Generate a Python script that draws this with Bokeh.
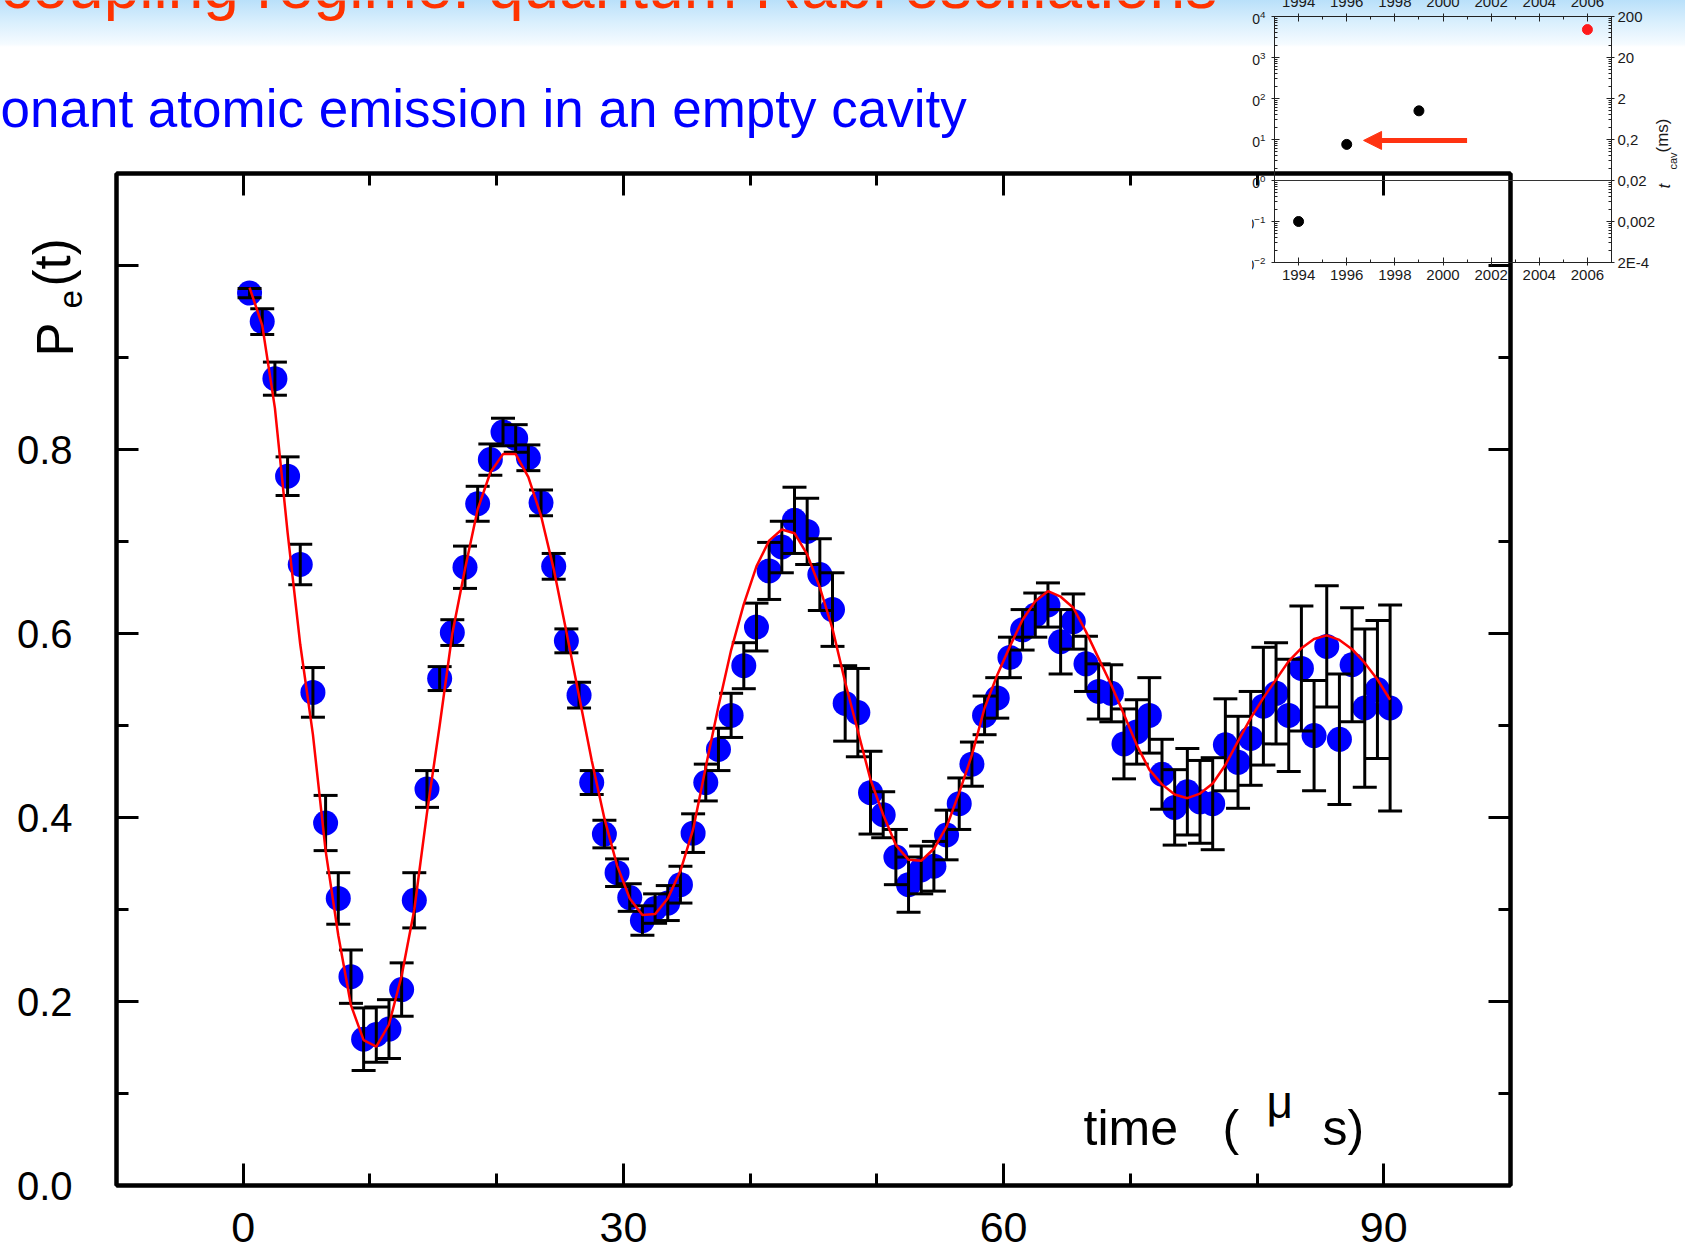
from bokeh.plotting import figure
from bokeh.models import (Range1d, LinearAxis, LogAxis, FixedTicker, CustomJSTickFormatter,
                          LogTickFormatter, ColumnDataSource, Whisker, TeeHead, Label, Span,
                          Arrow, NormalHead)
from bokeh.embed import file_html
from bokeh.resources import INLINE
import math

# ---------------- data: main plot ----------------
t_us = [0.5, 1.5, 2.5, 3.5, 4.5, 5.5, 6.5, 7.5, 8.5, 9.5,
        10.5, 11.5, 12.5, 13.5, 14.5, 15.5, 16.5, 17.5, 18.5, 19.5,
        20.5, 21.5, 22.5, 23.5, 24.5, 25.5, 26.5, 27.5, 28.5, 29.5,
        30.5, 31.5, 32.5, 33.5, 34.5, 35.5, 36.5, 37.5, 38.5, 39.5,
        40.5, 41.5, 42.5, 43.5, 44.5, 45.5, 46.5, 47.5, 48.5, 49.5,
        50.5, 51.5, 52.5, 53.5, 54.5, 55.5, 56.5, 57.5, 58.5, 59.5,
        60.5, 61.5, 62.5, 63.5, 64.5, 65.5, 66.5, 67.5, 68.5, 69.5,
        70.5, 71.5, 72.5, 73.5, 74.5, 75.5, 76.5, 77.5, 78.5, 79.5,
        80.5, 81.5, 82.5, 83.5, 84.5, 85.5, 86.5, 87.5, 88.5, 89.5,
        90.5]

pe = [0.970, 0.939, 0.877, 0.771, 0.675, 0.536, 0.394, 0.312, 0.227, 0.159,
      0.164, 0.170, 0.213, 0.310, 0.431, 0.551, 0.601, 0.672, 0.741, 0.789,
      0.819, 0.812, 0.791, 0.742, 0.673, 0.592, 0.533, 0.438, 0.382, 0.340,
      0.313, 0.288, 0.301, 0.307, 0.327, 0.383, 0.438, 0.474, 0.511, 0.565,
      0.607, 0.668, 0.694, 0.723, 0.711, 0.664, 0.626, 0.524, 0.514, 0.427,
      0.403, 0.357, 0.327, 0.343, 0.347, 0.381, 0.415, 0.458, 0.511, 0.530,
      0.574, 0.604, 0.620, 0.631, 0.591, 0.613, 0.567, 0.537, 0.535, 0.480,
      0.493, 0.511, 0.447, 0.411, 0.428, 0.417, 0.415, 0.479, 0.460, 0.486,
      0.521, 0.535, 0.511, 0.562, 0.489, 0.586, 0.485, 0.566, 0.519, 0.539,
      0.519]

pe_err = [0.005, 0.014, 0.018, 0.021, 0.022, 0.027, 0.030, 0.028, 0.029, 0.034,
          0.030, 0.032, 0.029, 0.030, 0.020, 0.013, 0.014, 0.023, 0.019, 0.017,
          0.015, 0.015, 0.014, 0.014, 0.014, 0.013, 0.014, 0.013, 0.015, 0.015,
          0.015, 0.016, 0.016, 0.019, 0.020, 0.021, 0.020, 0.023, 0.024, 0.025,
          0.026, 0.031, 0.028, 0.036, 0.036, 0.039, 0.040, 0.041, 0.048, 0.045,
          0.025, 0.030, 0.030, 0.026, 0.027, 0.027, 0.028, 0.024, 0.021, 0.022,
          0.022, 0.022, 0.024, 0.024, 0.035, 0.030, 0.030, 0.030, 0.031, 0.038,
          0.035, 0.041, 0.038, 0.041, 0.047, 0.045, 0.050, 0.050, 0.050, 0.051,
          0.064, 0.055, 0.061, 0.068, 0.060, 0.066, 0.071, 0.062, 0.086, 0.075,
          0.112]

fit = [0.976, 0.935, 0.845, 0.710, 0.588, 0.490, 0.364, 0.272, 0.196, 0.158,
       0.151, 0.175, 0.228, 0.300, 0.405, 0.500, 0.600, 0.670, 0.735, 0.775,
       0.795, 0.795, 0.770, 0.728, 0.670, 0.602, 0.532, 0.462, 0.399, 0.348,
       0.312, 0.294, 0.295, 0.312, 0.342, 0.387, 0.455, 0.521, 0.582, 0.632,
       0.673, 0.701, 0.713, 0.709, 0.686, 0.650, 0.605, 0.547, 0.494, 0.441,
       0.403, 0.370, 0.354, 0.353, 0.366, 0.390, 0.427, 0.468, 0.519, 0.555,
       0.586, 0.615, 0.635, 0.646, 0.640, 0.628, 0.602, 0.573, 0.544, 0.512,
       0.479, 0.452, 0.436, 0.425, 0.421, 0.426, 0.437, 0.457, 0.483, 0.508,
       0.530, 0.550, 0.570, 0.584, 0.594, 0.598, 0.593, 0.583, 0.568, 0.550,
       0.528]

x_major = [0, 30, 60, 90]
x_minor = [10, 20, 40, 50, 70, 80]
y_major = [0.0, 0.2, 0.4, 0.6, 0.8, 1.0]
y_minor = [0.1, 0.3, 0.5, 0.7, 0.9]

# ---------------- data: inset ----------------
years = [1994, 1996, 1999, 2006]
q_vals = [0.1, 7.6, 50.0, 4800.0]
q_colors = ["black", "black", "black", "#ff1a1a"]
year_major = [1994, 1996, 1998, 2000, 2002, 2004, 2006]
year_minor = [1993, 1995, 1997, 1999, 2001, 2003, 2005, 2007]
q_major = [1e-2, 1e-1, 1e0, 1e1, 1e2, 1e3, 1e4]
arrow_from = (2001.0, 9.5)
arrow_to = (1996.7, 9.5)

FONT = "Liberation Sans"
W, H = 1685, 1249

# ================= main figure =================
p = figure(width=W, height=H, x_range=Range1d(-10, 100), y_range=Range1d(0, 1.1),
           output_backend="svg", toolbar_location=None,
           min_border_left=116, min_border_right=175, min_border_top=173, min_border_bottom=64,
           border_fill_color=None, background_fill_color="white",
           outline_line_color="black", outline_line_width=4,
           styles={"position": "absolute", "left": "0px", "top": "0px", "z-index": "0",
                   "background-image": "linear-gradient(to bottom, #b9e0fa 0px, #d9effd 22px, #f5fbff 44px, #ffffff 47px)"})
p.grid.visible = False


def style_axis(ax, major, minor, show_labels, fs, standoff):
    ax.ticker = FixedTicker(ticks=major, minor_ticks=minor)
    ax.axis_line_width = 4
    ax.axis_line_color = "black"
    ax.major_tick_in = 22
    ax.major_tick_out = 0
    ax.minor_tick_in = 12
    ax.minor_tick_out = 0
    ax.major_tick_line_width = 3
    ax.minor_tick_line_width = 3
    ax.major_label_text_font = FONT
    ax.major_label_text_font_size = fs
    ax.major_label_text_color = "black"
    ax.major_label_standoff = standoff
    if not show_labels:
        ax.formatter = CustomJSTickFormatter(code="return '';")


style_axis(p.xaxis[0], x_major, x_minor, True, "43px", 27)
style_axis(p.yaxis[0], y_major, y_minor, True, "40px", 44)
p.yaxis[0].formatter = CustomJSTickFormatter(code="return tick > 0.95 ? '' : tick.toFixed(1);")

top_ax = LinearAxis()
style_axis(top_ax, x_major, x_minor, False, "10px", 5)
p.add_layout(top_ax, "above")
right_ax = LinearAxis()
style_axis(right_ax, y_major, y_minor, False, "10px", 5)
p.add_layout(right_ax, "right")

src = ColumnDataSource(dict(
    t=t_us, pe=pe, fit=fit,
    upper=[v + e for v, e in zip(pe, pe_err)],
    lower=[v - e for v, e in zip(pe, pe_err)],
))

p.scatter("t", "pe", source=src, size=25, fill_color="#0000ff", line_color=None)
whisk = Whisker(base="t", upper="upper", lower="lower", source=src, dimension="height",
                line_color="black", line_width=3, level="annotation",
                upper_head=TeeHead(size=24, line_width=3, line_color="black"),
                lower_head=TeeHead(size=24, line_width=3, line_color="black"))
p.add_layout(whisk)
p.line("t", "fit", source=src, line_color="#ff0000", line_width=2.5, level="overlay")

# ================= page overlay for free texts (page pixels, y downward) =================
page = figure(width=W, height=H, x_range=Range1d(0, W), y_range=Range1d(H, 0),
              output_backend="svg", toolbar_location=None, title=None,
              x_axis_type=None, y_axis_type=None,
              min_border_left=0, min_border_right=0, min_border_top=0, min_border_bottom=0,
              border_fill_color=None, background_fill_color=None, outline_line_color=None,
              styles={"position": "absolute", "left": "0px", "top": "0px", "z-index": "1",
                      "pointer-events": "none"})
page.grid.visible = False

MID = 0.35  # distance from alphabetic baseline to the text middle, in em


def txt(x, y_base, text, size, color="black", rotated=False, style="normal"):
    """x: start of text; y_base: baseline position (for rotated text: x is baseline, y is start)."""
    if rotated:
        ax_, ay_ = x - MID * size, y_base
        ang = math.pi / 2
    else:
        ax_, ay_ = x, y_base - MID * size
        ang = 0.0
    page.add_layout(Label(x=ax_, y=ay_, text=text, text_font=FONT,
                          text_font_size=f"{size}px", text_color=color,
                          text_font_style=style, angle=ang,
                          text_align="left", text_baseline="middle"))


txt(0, 8, "coupling regime: quantum Rabi oscillations", 64, "#ff3300")
txt(0, 127, "onant atomic emission in an empty cavity", 53, "#0000ff")
# y-axis title P_e(t), read bottom-to-top
txt(73, 356, "P", 51, rotated=True)
txt(82, 308, "e", 33, rotated=True)
txt(70, 286, "(t)", 51, rotated=True)
# x-axis title inside the frame
txt(1083, 1145, "time", 50)
txt(1222, 1145, "(", 50)
txt(1266, 1118, "\u03bc", 46)
txt(1322, 1145, "s)", 50)
# inset right-axis title t_cav (ms)
txt(1670, 188, "t", 17, "#1a1a1a", rotated=True, style="italic")
txt(1676, 169, "cav", 11, "#1a1a1a", rotated=True)
txt(1668, 152, "(ms)", 17, "#1a1a1a", rotated=True)

# ================= inset figure =================
ins = figure(width=471, height=316, x_range=Range1d(1993, 2007), y_range=Range1d(1e-2, 1e4),
             y_axis_type="log", output_backend="svg", toolbar_location=None,
             min_border_left=60, min_border_right=74, min_border_top=40, min_border_bottom=30,
             border_fill_color=None, background_fill_color=None,
             outline_line_color="#222222", outline_line_width=1,
             styles={"position": "absolute", "left": "1214px", "top": "-24px", "z-index": "2",
                     "clip-path": "inset(0px 0px 0px 38px)", "pointer-events": "none"})
ins.grid.visible = False

q_minor = [m * 10.0 ** k for k in range(-2, 4) for m in range(2, 10)]


def style_inset_axis(ax, fs="15px", standoff=4):
    ax.axis_line_color = "#222222"
    ax.axis_line_width = 1
    ax.major_tick_in = 5
    ax.major_tick_out = 3
    ax.minor_tick_in = 3
    ax.minor_tick_out = 0
    ax.major_tick_line_color = "#222222"
    ax.minor_tick_line_color = "#222222"
    ax.major_label_text_font = FONT
    ax.major_label_text_font_size = fs
    ax.major_label_text_color = "#1a1a1a"
    ax.major_label_standoff = standoff


bx = ins.xaxis[0]
bx.ticker = FixedTicker(ticks=year_major, minor_ticks=year_minor)
style_inset_axis(bx, standoff=4)
tx = LinearAxis(ticker=FixedTicker(ticks=year_major, minor_ticks=year_minor))
style_inset_axis(tx, standoff=7)
ins.add_layout(tx, "above")

ly = ins.yaxis[0]
ly.ticker = FixedTicker(ticks=q_major, minor_ticks=q_minor)
ly.formatter = LogTickFormatter()
style_inset_axis(ly, fs="14px", standoff=6)

ry = LogAxis(ticker=FixedTicker(ticks=q_major, minor_ticks=q_minor),
             formatter=CustomJSTickFormatter(code="""
const e = Math.round(Math.log10(tick));
const m = {"-2": "2E-4", "-1": "0,002", "0": "0,02", "1": "0,2", "2": "2", "3": "20", "4": "200"};
return m[String(e)] || "";
"""))
style_inset_axis(ry, standoff=3)
ins.add_layout(ry, "right")

ins.add_layout(Span(location=1.0, dimension="width", line_color="#333333", line_width=1))
ins.scatter(years, q_vals, size=10, color=q_colors)
ins.add_layout(Arrow(end=NormalHead(size=18, fill_color="#ff3311", line_color="#ff3311"),
                     x_start=arrow_from[0], y_start=arrow_from[1],
                     x_end=arrow_to[0], y_end=arrow_to[1],
                     line_color="#ff3311", line_width=5))

open("out.html", "w").write(file_html([p, page, ins], INLINE, title="Rabi oscillations"))
